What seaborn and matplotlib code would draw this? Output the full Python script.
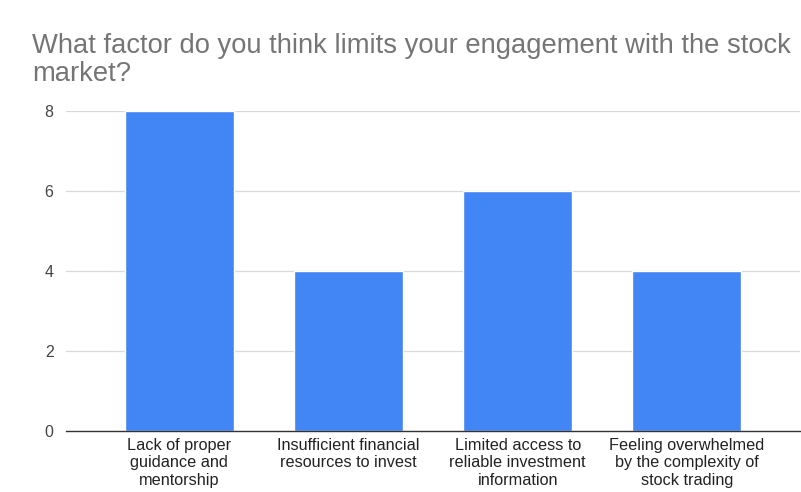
import matplotlib
matplotlib.use("Agg")
import matplotlib.pyplot as plt
import seaborn as sns
import pandas as pd

categories = [
    "Lack of proper\nguidance and\nmentorship",
    "Insufficient financial\nresources to invest",
    "Limited access to\nreliable investment\ninformation",
    "Feeling overwhelmed\nby the complexity of\nstock trading",
]
counts = [8, 4, 6, 4]
y_ticks = [0, 2, 4, 6, 8]
title = "What factor do you think limits your engagement with the stock\nmarket?"

sns.set_theme(style="white")
plt.rcParams["font.family"] = ["Liberation Sans", "DejaVu Sans"]

df = pd.DataFrame({"factor": categories, "count": counts})

fig = plt.figure(figsize=(8.01, 4.92), dpi=100)
ax = fig.add_axes([0.0824, 0.124, 0.9166, 0.6504])

sns.barplot(data=df, x="factor", y="count", color="#4285F4", saturation=1,
            width=0.645, ax=ax, zorder=2)

ax.set_xlim(-0.67, 3.67)
ax.set_ylim(0, 8)
ax.set_yticks(y_ticks)
ax.set_yticklabels([str(v) for v in y_ticks])
ax.yaxis.grid(True, color="#d9d9d9", linewidth=0.9, zorder=0)
ax.set_axisbelow(True)
for s in ["top", "right", "left"]:
    ax.spines[s].set_visible(False)
ax.spines["bottom"].set_color("#333333")
ax.spines["bottom"].set_linewidth(1.0)
ax.spines["bottom"].set_zorder(3)
ax.set_xlabel("")
ax.set_ylabel("")
ax.tick_params(axis="x", length=0, pad=5, labelsize=11.7, labelcolor="#222222")
ax.tick_params(axis="y", length=0, pad=9, labelsize=11.5, labelcolor="#444444")
for lbl in ax.get_xticklabels():
    lbl.set_linespacing(1.2)

fig.text(0.04, 0.933, title, ha="left", va="top", fontsize=19.7,
         color="#757575", linespacing=1.12)

fig.savefig("out.png", dpi=100, facecolor="white")
